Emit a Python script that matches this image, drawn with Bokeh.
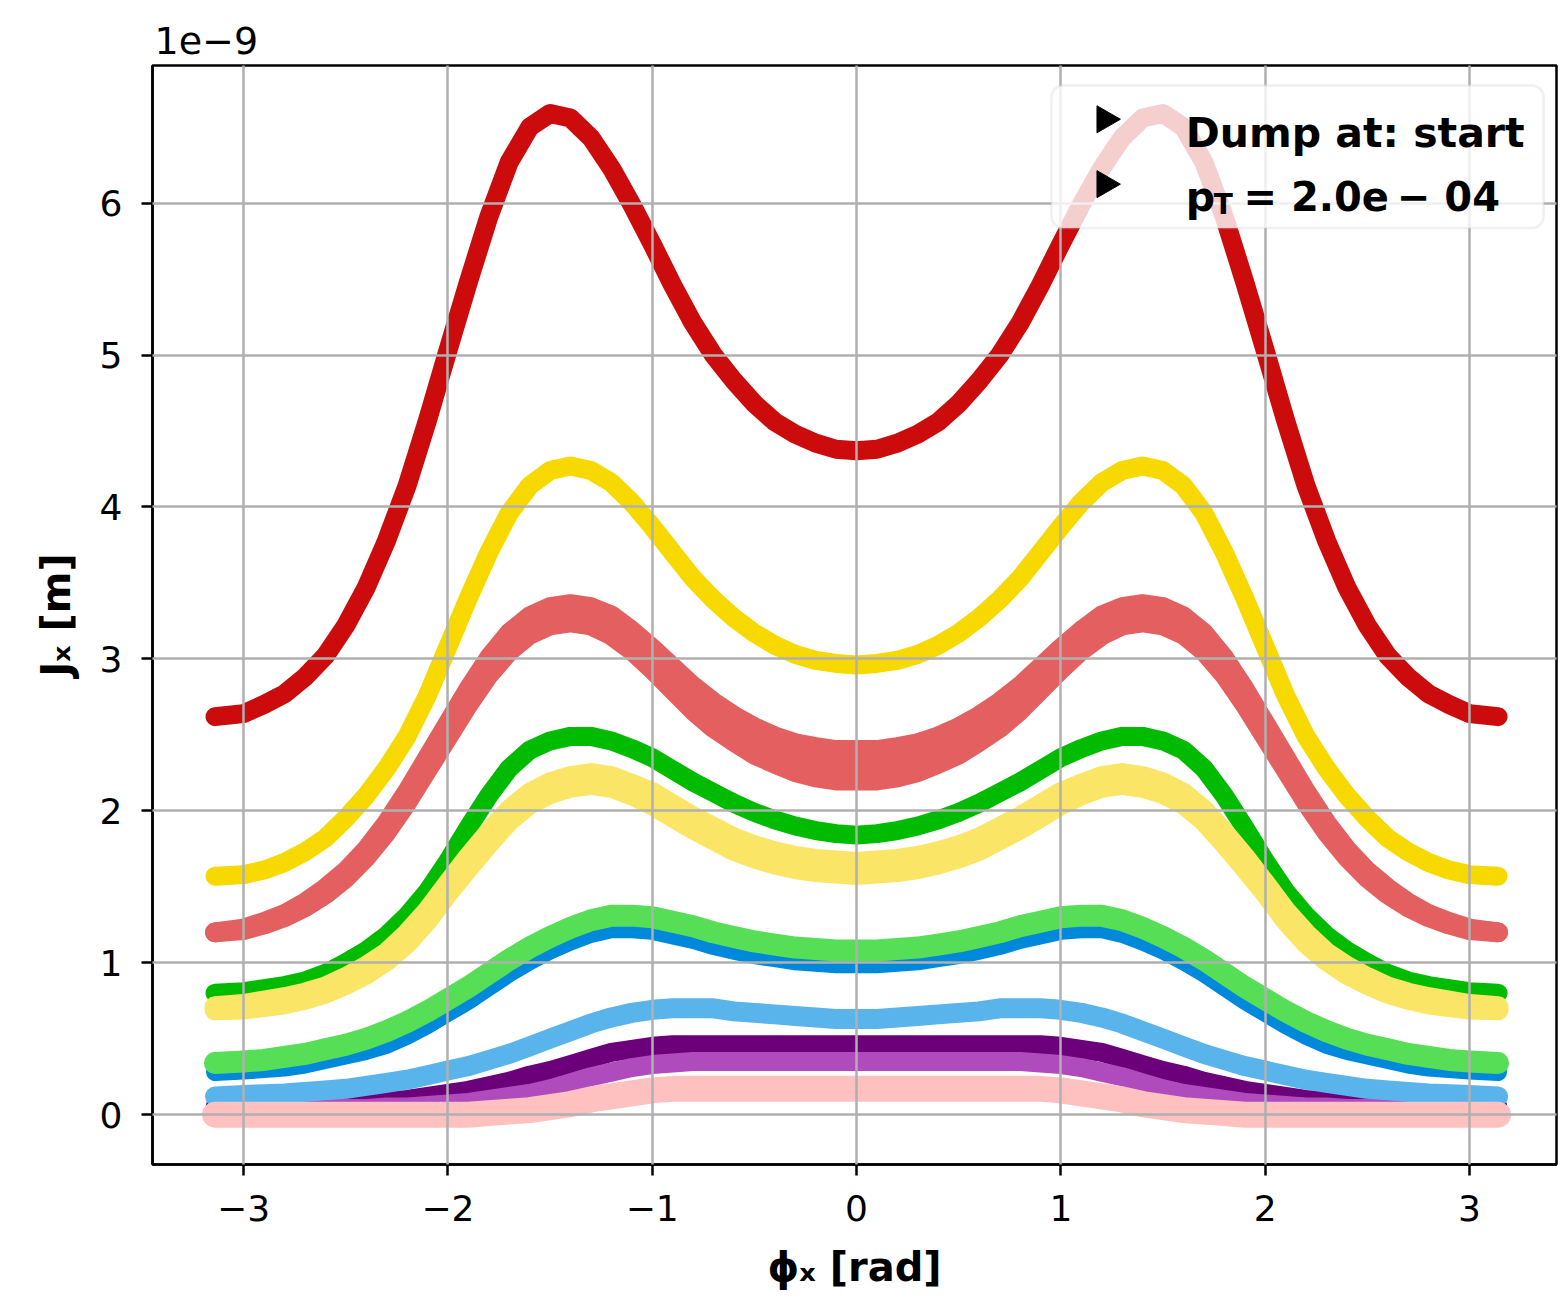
import numpy as np
from bokeh.plotting import figure
from bokeh.models import Range1d, FixedTicker, Label, BoxAnnotation
from bokeh.embed import file_html
from bokeh.resources import INLINE

# ---------------- data, J in units of 1e-9 m ----------------
phi = [-3.14, -3.0, -2.9, -2.8, -2.7, -2.6, -2.5, -2.4, -2.3, -2.2, -2.1, -2.0, -1.9, -1.8, -1.7, -1.6,
       -1.5, -1.4, -1.3, -1.2, -1.1, -1.0, -0.9, -0.8, -0.7, -0.6, -0.5, -0.4, -0.3, -0.2, -0.1, 0.0,
       0.1, 0.2, 0.3, 0.4, 0.5, 0.6, 0.7, 0.8, 0.9, 1.0, 1.1, 1.2, 1.3, 1.4, 1.5,
       1.6, 1.7, 1.8, 1.9, 2.0, 2.1, 2.2, 2.3, 2.4, 2.5, 2.6, 2.7, 2.8, 2.9, 3.0, 3.14]

J_red = [2.62, 2.64, 2.70, 2.77, 2.88, 3.02, 3.22, 3.47, 3.78, 4.14, 4.57, 5.03, 5.48, 5.91, 6.27, 6.50,
         6.59, 6.56, 6.43, 6.23, 5.99, 5.73, 5.46, 5.21, 5.00, 4.83, 4.68, 4.56, 4.48, 4.42, 4.38, 4.37,
         4.38, 4.42, 4.48, 4.56, 4.68, 4.83, 5.00, 5.21, 5.46, 5.73, 5.99, 6.23, 6.43, 6.56, 6.59,
         6.50, 6.27, 5.91, 5.48, 5.03, 4.57, 4.14, 3.78, 3.47, 3.22, 3.02, 2.88, 2.77, 2.70, 2.64, 2.62]

J_gold = [1.57, 1.58, 1.61, 1.66, 1.73, 1.82, 1.95, 2.10, 2.28, 2.49, 2.76, 3.08, 3.40, 3.70, 3.96, 4.14,
          4.24, 4.27, 4.24, 4.16, 4.03, 3.87, 3.70, 3.53, 3.39, 3.27, 3.17, 3.09, 3.03, 2.99, 2.97, 2.96,
          2.97, 2.99, 3.03, 3.09, 3.17, 3.27, 3.39, 3.53, 3.70, 3.87, 4.03, 4.16, 4.24, 4.27, 4.24,
          4.14, 3.96, 3.70, 3.40, 3.08, 2.76, 2.49, 2.28, 2.10, 1.95, 1.82, 1.73, 1.66, 1.61, 1.58, 1.57]

J_lred = [1.20, 1.22, 1.26, 1.31, 1.38, 1.47, 1.58, 1.72, 1.89, 2.09, 2.31, 2.53, 2.75, 2.95, 3.11, 3.22,
          3.28, 3.30, 3.28, 3.22, 3.12, 3.00, 2.87, 2.74, 2.63, 2.54, 2.46, 2.40, 2.35, 2.32, 2.30, 2.30,
          2.30, 2.32, 2.35, 2.40, 2.46, 2.54, 2.63, 2.74, 2.87, 3.00, 3.12, 3.22, 3.28, 3.30, 3.28,
          3.22, 3.11, 2.95, 2.75, 2.53, 2.31, 2.09, 1.89, 1.72, 1.58, 1.47, 1.38, 1.31, 1.26, 1.22, 1.20]
dJ_lred = [0.0, 0.005, 0.008, 0.01, 0.015, 0.02, 0.022, 0.025, 0.03, 0.035, 0.04, 0.045, 0.05, 0.055, 0.06, 0.06,
           0.06, 0.06, 0.06, 0.065, 0.065, 0.07, 0.075, 0.08, 0.085, 0.085, 0.09, 0.09, 0.095, 0.10, 0.10, 0.10,
           0.10, 0.10, 0.095, 0.09, 0.09, 0.085, 0.085, 0.08, 0.075, 0.07, 0.065, 0.065, 0.06, 0.06, 0.06,
           0.06, 0.06, 0.055, 0.05, 0.045, 0.04, 0.035, 0.03, 0.025, 0.022, 0.02, 0.015, 0.01, 0.008, 0.005, 0.0]

J_green = [0.80, 0.81, 0.83, 0.85, 0.88, 0.93, 1.00, 1.08, 1.18, 1.31, 1.47, 1.67, 1.89, 2.10, 2.28, 2.40,
           2.46, 2.49, 2.49, 2.46, 2.41, 2.35, 2.27, 2.19, 2.12, 2.05, 1.99, 1.94, 1.90, 1.87, 1.85, 1.84,
           1.85, 1.87, 1.90, 1.94, 1.99, 2.05, 2.12, 2.19, 2.27, 2.35, 2.41, 2.46, 2.49, 2.49, 2.46,
           2.40, 2.28, 2.10, 1.89, 1.67, 1.47, 1.31, 1.18, 1.08, 1.00, 0.93, 0.88, 0.85, 0.83, 0.81, 0.80]

J_pyel = [0.70, 0.71, 0.73, 0.75, 0.78, 0.82, 0.88, 0.95, 1.04, 1.16, 1.31, 1.49, 1.66, 1.82, 1.97, 2.08,
          2.15, 2.19, 2.21, 2.19, 2.14, 2.08, 2.00, 1.92, 1.85, 1.78, 1.73, 1.69, 1.66, 1.64, 1.63, 1.62,
          1.63, 1.64, 1.66, 1.69, 1.73, 1.78, 1.85, 1.92, 2.00, 2.08, 2.14, 2.19, 2.21, 2.19, 2.15,
          2.08, 1.97, 1.82, 1.66, 1.49, 1.31, 1.16, 1.04, 0.95, 0.88, 0.82, 0.78, 0.75, 0.73, 0.71, 0.70]
dJ_pyel = [0.01, 0.015, 0.018, 0.02, 0.02, 0.02, 0.022, 0.025, 0.025, 0.03, 0.03, 0.03, 0.035, 0.035, 0.035, 0.035,
           0.035, 0.035, 0.035, 0.035, 0.035, 0.04, 0.04, 0.04, 0.04, 0.04, 0.04, 0.04, 0.04, 0.04, 0.04, 0.04,
           0.04, 0.04, 0.04, 0.04, 0.04, 0.04, 0.04, 0.04, 0.04, 0.04, 0.035, 0.035, 0.035, 0.035, 0.035,
           0.035, 0.035, 0.035, 0.035, 0.03, 0.03, 0.03, 0.025, 0.025, 0.022, 0.02, 0.02, 0.02, 0.018, 0.015, 0.01]

J_lgreen = [0.34, 0.35, 0.36, 0.38, 0.40, 0.43, 0.46, 0.50, 0.55, 0.61, 0.68, 0.76, 0.84, 0.93, 1.02, 1.10,
            1.17, 1.23, 1.28, 1.31, 1.31, 1.30, 1.27, 1.24, 1.20, 1.17, 1.14, 1.12, 1.10, 1.09, 1.08, 1.08,
            1.08, 1.09, 1.10, 1.12, 1.14, 1.17, 1.20, 1.24, 1.27, 1.30, 1.31, 1.31, 1.28, 1.23, 1.17,
            1.10, 1.02, 0.93, 0.84, 0.76, 0.68, 0.61, 0.55, 0.50, 0.46, 0.43, 0.40, 0.38, 0.36, 0.35, 0.34]

J_blue = [0.28, 0.29, 0.30, 0.31, 0.33, 0.36, 0.39, 0.42, 0.46, 0.52, 0.59, 0.67, 0.75, 0.84, 0.93, 1.01,
          1.08, 1.14, 1.19, 1.22, 1.22, 1.21, 1.18, 1.15, 1.11, 1.08, 1.05, 1.03, 1.01, 1.00, 0.99, 0.99,
          0.99, 1.00, 1.01, 1.03, 1.05, 1.08, 1.11, 1.15, 1.18, 1.21, 1.22, 1.22, 1.19, 1.14, 1.08,
          1.01, 0.93, 0.84, 0.75, 0.67, 0.59, 0.52, 0.46, 0.42, 0.39, 0.36, 0.33, 0.31, 0.30, 0.29, 0.28]

J_lblue = [0.12, 0.13, 0.135, 0.14, 0.15, 0.16, 0.17, 0.19, 0.21, 0.23, 0.26, 0.29, 0.32, 0.36, 0.40, 0.45,
           0.50, 0.55, 0.60, 0.64, 0.67, 0.69, 0.70, 0.70, 0.70, 0.68, 0.67, 0.66, 0.65, 0.64, 0.63, 0.63,
           0.63, 0.64, 0.65, 0.66, 0.67, 0.68, 0.70, 0.70, 0.70, 0.69, 0.67, 0.64, 0.60, 0.55, 0.50,
           0.45, 0.40, 0.36, 0.32, 0.29, 0.26, 0.23, 0.21, 0.19, 0.17, 0.16, 0.15, 0.14, 0.135, 0.13, 0.12]

J_purple = [0.05, 0.05, 0.055, 0.06, 0.065, 0.07, 0.075, 0.08, 0.09, 0.10, 0.12, 0.14, 0.16, 0.19, 0.22, 0.26,
            0.29, 0.33, 0.37, 0.41, 0.43, 0.45, 0.46, 0.46, 0.46, 0.46, 0.46, 0.46, 0.46, 0.46, 0.46, 0.46,
            0.46, 0.46, 0.46, 0.46, 0.46, 0.46, 0.46, 0.46, 0.46, 0.45, 0.43, 0.41, 0.37, 0.33, 0.29,
            0.26, 0.22, 0.19, 0.16, 0.14, 0.12, 0.10, 0.09, 0.08, 0.075, 0.07, 0.065, 0.06, 0.055, 0.05, 0.05]

J_orchid = [0.03, 0.03, 0.03, 0.03, 0.035, 0.04, 0.04, 0.04, 0.05, 0.05, 0.06, 0.07, 0.08, 0.10, 0.12, 0.14,
            0.17, 0.21, 0.25, 0.28, 0.31, 0.33, 0.34, 0.35, 0.35, 0.35, 0.35, 0.35, 0.35, 0.35, 0.35, 0.35,
            0.35, 0.35, 0.35, 0.35, 0.35, 0.35, 0.35, 0.35, 0.34, 0.33, 0.31, 0.28, 0.25, 0.21, 0.17,
            0.14, 0.12, 0.10, 0.08, 0.07, 0.06, 0.05, 0.05, 0.04, 0.04, 0.04, 0.035, 0.03, 0.03, 0.03, 0.03]

J_pale0 = [0.00, 0.00, 0.00, 0.00, 0.00, 0.00, 0.00, 0.00, 0.00, 0.00, 0.00, 0.00, 0.00, 0.00, 0.01, 0.02,
           0.04, 0.06, 0.08, 0.10, 0.12, 0.14, 0.15, 0.15, 0.15, 0.15, 0.15, 0.15, 0.15, 0.15, 0.15, 0.15,
           0.15, 0.15, 0.15, 0.15, 0.15, 0.15, 0.15, 0.15, 0.15, 0.14, 0.12, 0.10, 0.08, 0.06, 0.04,
           0.02, 0.01, 0.00, 0.00, 0.00, 0.00, 0.00, 0.00, 0.00, 0.00, 0.00, 0.00, 0.00, 0.00, 0.00, 0.00]

J_pink = [0.00, 0.00, 0.00, 0.00, 0.00, 0.00, 0.00, 0.00, 0.00, 0.00, 0.00, 0.00, 0.00, 0.01, 0.02, 0.03,
          0.05, 0.07, 0.10, 0.12, 0.14, 0.16, 0.17, 0.17, 0.17, 0.17, 0.17, 0.17, 0.17, 0.17, 0.17, 0.17,
          0.17, 0.17, 0.17, 0.17, 0.17, 0.17, 0.17, 0.17, 0.17, 0.16, 0.14, 0.12, 0.10, 0.07, 0.05,
          0.03, 0.02, 0.01, 0.00, 0.00, 0.00, 0.00, 0.00, 0.00, 0.00, 0.00, 0.00, 0.00, 0.00, 0.00, 0.00]

x_ticks = [-3, -2, -1, 0, 1, 2, 3]
y_ticks = [0, 1, 2, 3, 4, 5, 6]
x_tick_labels = {-3: "\u22123", -2: "\u22122", -1: "\u22121", 0: "0", 1: "1", 2: "2", 3: "3"}
legend_texts = ["Dump at: start", "p", "T", "= 2.0e\u2009\u2212 04"]

FONT = "DejaVu Sans"

p = figure(width=1558, height=1292, output_backend="svg", toolbar_location=None,
           x_range=Range1d(-3.446, 3.426), y_range=Range1d(-0.328, 6.906),
           min_border_left=152, min_border_right=2, min_border_top=65, min_border_bottom=125)
p.background_fill_color = "white"
p.border_fill_color = "white"
p.outline_line_color = "black"
p.outline_line_width = 2.5

# offset text of the y axis, as a left-aligned title above the frame
p.title.text = "1e\u22129"
p.title.align = "left"
p.title.text_font = FONT
p.title.text_font_size = "38px"
p.title.text_font_style = "normal"
p.title.text_color = "black"
p.title.offset = 2
p.title.standoff = 24

x = np.array(phi)

def band(J, dJ, color, w):
    J = np.array(J); dJ = np.array(dJ)
    lo, hi = J - dJ, J + dJ
    p.varea(x=x, y1=lo, y2=hi, fill_color=color)
    for yy in (lo, hi):
        p.line(x, yy, line_color=color, line_width=w, line_cap="round", line_join="round")

def curve(J, color, w):
    p.line(x, np.array(J), line_color=color, line_width=w, line_cap="round", line_join="round")

# draw order (bottom to top)
curve(J_blue, "#0088da", 18)
curve(J_lgreen, "#56de56", 22)
curve(J_purple, "#6c007a", 19)
curve(J_orchid, "#b04bbd", 19)
curve(J_lblue, "#5ab4ec", 20)
curve(J_pale0, "#fbe566", 18)
curve(J_pink, "#ffc0c0", 26)
curve(J_green, "#00bb00", 19)
band(J_pyel, dJ_pyel, "#fbe566", 21)
band(J_lred, dJ_lred, "#e46060", 20)
curve(J_gold, "#f7d900", 19)
curve(J_red, "#cc0c0c", 19)

# axes styling
for ax in (p.xaxis[0], p.yaxis[0]):
    ax.axis_line_color = "black"
    ax.axis_line_width = 2.5
    ax.major_tick_line_color = "black"
    ax.major_tick_line_width = 2.5
    ax.major_tick_out = 11
    ax.major_tick_in = 0
    ax.minor_tick_line_color = None
    ax.major_label_text_font = FONT
    ax.major_label_text_font_size = "36px"
    ax.major_label_text_color = "black"
    ax.axis_label_text_font = FONT
    ax.axis_label_text_font_size = "40px"
    ax.axis_label_text_font_style = "bold"
    ax.axis_label_text_color = "black"

p.xaxis.ticker = FixedTicker(ticks=x_ticks)
p.yaxis.ticker = FixedTicker(ticks=y_ticks)
p.xaxis.major_label_overrides = x_tick_labels
p.xaxis.major_label_standoff = 19
p.yaxis.major_label_standoff = 19
p.xaxis.axis_label = "\u03d5\u2093 [rad]"
p.yaxis.axis_label = "J\u2093 [m]"
p.xaxis.axis_label_standoff = 20
p.yaxis.axis_label_standoff = 18

for g in (p.xgrid[0], p.ygrid[0]):
    g.grid_line_color = "#b0b0b0"
    g.grid_line_width = 2.5
    g.level = "guide"
p.xgrid.ticker = FixedTicker(ticks=x_ticks)
p.ygrid.ticker = FixedTicker(ticks=y_ticks)

# legend (drawn manually: box, black markers, texts)
box = BoxAnnotation(left=0.954, right=3.363, top=6.775, bottom=5.836,
                    fill_color="white", fill_alpha=0.8, line_color="#cccccc", line_width=2.5,
                    border_radius=12)
p.add_layout(box)
p.scatter(x=[1.215, 1.215], y=[6.552, 6.125], marker="triangle", angle=-np.pi / 2,
          size=27, fill_color="black", line_color="black", level="overlay")
lab_kw = dict(text_font=FONT, text_font_style="bold", text_color="black",
              text_baseline="alphabetic", text_align="left", level="overlay")
p.add_layout(Label(x=1.611, y=6.460, text=legend_texts[0], text_font_size="41px", **lab_kw))
p.add_layout(Label(x=1.611, y=6.040, text=legend_texts[1], text_font_size="41px", **lab_kw))
p.add_layout(Label(x=1.748, y=5.99, text=legend_texts[2], text_font_size="28px", **lab_kw))
p.add_layout(Label(x=1.894, y=6.040, text=legend_texts[3], text_font_size="40px", **lab_kw))

open("out.html", "w").write(file_html(p, INLINE))
